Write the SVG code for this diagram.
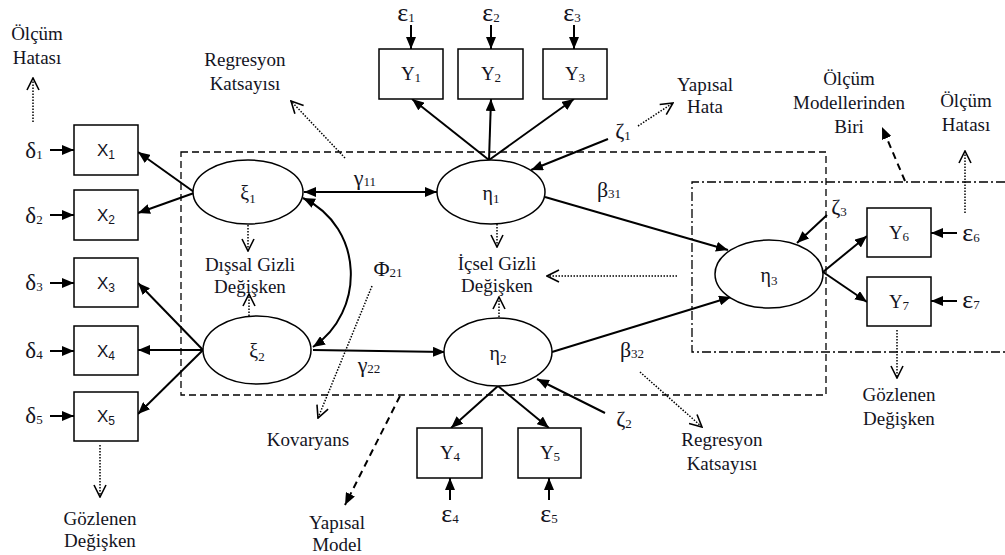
<svg xmlns="http://www.w3.org/2000/svg" width="1005" height="555" viewBox="0 0 1005 555">
  <defs>
    <marker id="head" viewBox="0 0 12 10" refX="12" refY="5" markerWidth="12" markerHeight="10" markerUnits="userSpaceOnUse" orient="auto-start-reverse">
      <path d="M0,0 L12,5 L0,10 z" fill="#000"/>
    </marker>
    <marker id="open" viewBox="0 0 14 14" refX="13" refY="7" markerWidth="14" markerHeight="14" markerUnits="userSpaceOnUse" orient="auto">
      <path d="M1,1 L13,7 L1,13" fill="none" stroke="#000" stroke-width="1.6"/>
    </marker>
  </defs>
  <style>
    .box { fill: #fff; stroke: #000; stroke-width: 1.5; }
    .lat { fill: #fff; stroke: #000; stroke-width: 1.5; }
    .arr { fill: none; stroke: #000; stroke-width: 2; marker-end: url(#head); }
    .dot { fill: none; stroke: #000; stroke-width: 1.5; stroke-dasharray: 1.5 1.5; marker-end: url(#open); }
    .dash { fill: none; stroke: #000; stroke-width: 2; stroke-dasharray: 7 5; marker-end: url(#head); }
    .frame { fill: none; stroke: #000; stroke-width: 1.3; stroke-dasharray: 7 4; }
    .frame2 { fill: none; stroke: #000; stroke-width: 1.3; stroke-dasharray: 9 3 2 3; }
    text { font-family: "Liberation Serif", "Times New Roman", serif; fill: #14141e; }
    .lbl { font-size: 19px; text-anchor: middle; }
    .nd { font-size: 19px; text-anchor: middle; }
    .xs { font-family: "Liberation Sans", Arial, sans-serif; font-size: 17px; text-anchor: middle; }
    .gk { font-size: 20px; text-anchor: middle; }
    .gs { font-size: 22px; text-anchor: middle; }
    .dl { font-size: 23px; text-anchor: middle; }
    .ep { font-size: 26px; text-anchor: middle; }
    .sb { font-size: 13px; }
  </style>

  <!-- model frames -->
  <g id="frames">
    <rect class="frame" x="181" y="152" width="645" height="243"/>
    <path class="frame2" d="M1005,182 L692,182 L692,352 L1005,352"/>
  </g>

  <!-- connectors -->
  <g id="connectors">
    <!-- error terms to indicators -->
    <line class="arr" x1="50" y1="150" x2="74" y2="150"/>
    <line class="arr" x1="50" y1="215" x2="74" y2="215"/>
    <line class="arr" x1="50" y1="283" x2="74" y2="283"/>
    <line class="arr" x1="50" y1="351" x2="74" y2="351"/>
    <line class="arr" x1="50" y1="416" x2="74" y2="416"/>
    <line class="arr" x1="411" y1="25" x2="411" y2="49"/>
    <line class="arr" x1="491" y1="25" x2="491" y2="49"/>
    <line class="arr" x1="574" y1="25" x2="574" y2="49"/>
    <line class="arr" x1="450" y1="500" x2="450" y2="478"/>
    <line class="arr" x1="549" y1="500" x2="549" y2="478"/>
    <line class="arr" x1="957" y1="233" x2="931" y2="233"/>
    <line class="arr" x1="957" y1="301" x2="931" y2="301"/>
    <!-- loadings -->
    <line class="arr" x1="194" y1="192" x2="138" y2="152"/>
    <line class="arr" x1="194" y1="193" x2="138" y2="213"/>
    <line class="arr" x1="203" y1="350" x2="138" y2="283"/>
    <line class="arr" x1="203" y1="350" x2="138" y2="350"/>
    <line class="arr" x1="203" y1="350" x2="138" y2="414"/>
    <line class="arr" x1="489" y1="160" x2="412" y2="99"/>
    <line class="arr" x1="489" y1="160" x2="491" y2="99"/>
    <line class="arr" x1="489" y1="160" x2="574" y2="99"/>
    <line class="arr" x1="498" y1="386" x2="451" y2="428"/>
    <line class="arr" x1="498" y1="386" x2="549" y2="428"/>
    <line class="arr" x1="823" y1="272" x2="867" y2="236"/>
    <line class="arr" x1="823" y1="272" x2="867" y2="302"/>
    <!-- structural paths -->
    <line class="arr" x1="304" y1="192" x2="437" y2="192" marker-start="url(#head)"/>
    <line class="arr" x1="313" y1="350" x2="445" y2="352"/>
    <path class="arr" d="M303,198 C365,228 365,312 313,347" marker-start="url(#head)"/>
    <line class="arr" x1="545" y1="197" x2="728" y2="250"/>
    <line class="arr" x1="552" y1="352" x2="731" y2="297"/>
    <!-- disturbances -->
    <line class="arr" x1="608" y1="139" x2="531" y2="170"/>
    <line class="arr" x1="605" y1="413" x2="537" y2="379"/>
    <line class="arr" x1="827" y1="215" x2="797" y2="243"/>
    <!-- annotation pointers -->
    <line class="dot" x1="33" y1="122" x2="33" y2="78"/>
    <line class="dot" x1="345" y1="158" x2="291" y2="101"/>
    <line class="dot" x1="248" y1="225" x2="248" y2="251"/>
    <line class="dot" x1="249" y1="316" x2="249" y2="294"/>
    <line class="dot" x1="497" y1="224" x2="497" y2="247"/>
    <line class="dot" x1="499" y1="317" x2="499" y2="297"/>
    <line class="dot" x1="677" y1="276" x2="547" y2="276"/>
    <line class="dot" x1="372" y1="286" x2="318" y2="418"/>
    <line class="dot" x1="640" y1="372" x2="702" y2="427"/>
    <line class="dot" x1="638" y1="126" x2="673" y2="103"/>
    <line class="dot" x1="965" y1="213" x2="965" y2="151"/>
    <line class="dot" x1="897" y1="330" x2="897" y2="378"/>
    <line class="dot" x1="100" y1="445" x2="100" y2="497"/>
    <line class="dash" x1="400" y1="396" x2="345" y2="505"/>
    <line class="dash" x1="905" y1="181" x2="882" y2="127"/>
  </g>

  <!-- observed indicators -->
  <g id="X1"><rect class="box" x="74" y="125" width="64" height="50"/><text class="xs" x="106" y="156">X<tspan font-size="12" dy="3">1</tspan></text></g>
  <g id="X2"><rect class="box" x="74" y="190" width="64" height="50"/><text class="xs" x="106" y="221">X<tspan font-size="12" dy="3">2</tspan></text></g>
  <g id="X3"><rect class="box" x="74" y="258" width="64" height="49"/><text class="xs" x="106" y="289">X<tspan font-size="12" dy="3">3</tspan></text></g>
  <g id="X4"><rect class="box" x="74" y="326" width="64" height="49"/><text class="xs" x="106" y="357">X<tspan font-size="12" dy="3">4</tspan></text></g>
  <g id="X5"><rect class="box" x="74" y="392" width="64" height="49"/><text class="xs" x="106" y="422">X<tspan font-size="12" dy="3">5</tspan></text></g>

  <g id="Y1"><rect class="box" x="379" y="49" width="64" height="50"/><text class="nd" x="411" y="80">Y<tspan font-size="13" dy="2">1</tspan></text></g>
  <g id="Y2"><rect class="box" x="458" y="49" width="65" height="50"/><text class="nd" x="491" y="80">Y<tspan font-size="13" dy="2">2</tspan></text></g>
  <g id="Y3"><rect class="box" x="543" y="49" width="64" height="50"/><text class="nd" x="575" y="80">Y<tspan font-size="13" dy="2">3</tspan></text></g>
  <g id="Y4"><rect class="box" x="417" y="428" width="65" height="50"/><text class="nd" x="450" y="459">Y<tspan font-size="13" dy="2">4</tspan></text></g>
  <g id="Y5"><rect class="box" x="518" y="428" width="63" height="50"/><text class="nd" x="550" y="459">Y<tspan font-size="13" dy="2">5</tspan></text></g>
  <g id="Y6"><rect class="box" x="867" y="208" width="64" height="49"/><text class="nd" x="899" y="239">Y<tspan font-size="13" dy="2">6</tspan></text></g>
  <g id="Y7"><rect class="box" x="867" y="277" width="64" height="49"/><text class="nd" x="899" y="308">Y<tspan font-size="13" dy="2">7</tspan></text></g>

  <!-- latent variables -->
  <g id="xi1"><ellipse class="lat" cx="248" cy="192" rx="55" ry="32"/><text class="gk" x="248" y="200">ξ<tspan class="sb" dy="3">1</tspan></text></g>
  <g id="xi2"><ellipse class="lat" cx="257" cy="350" rx="54" ry="34"/><text class="gk" x="257" y="358">ξ<tspan class="sb" dy="3">2</tspan></text></g>
  <g id="eta1"><ellipse class="lat" cx="491" cy="192" rx="54" ry="32"/><text class="gk" x="491" y="200">η<tspan class="sb" dy="3">1</tspan></text></g>
  <g id="eta2"><ellipse class="lat" cx="498" cy="352" rx="54" ry="34"/><text class="gk" x="498" y="360">η<tspan class="sb" dy="3">2</tspan></text></g>
  <g id="eta3"><ellipse class="lat" cx="769" cy="274" rx="54" ry="34"/><text class="gk" x="769" y="282">η<tspan class="sb" dy="3">3</tspan></text></g>

  <!-- error and parameter symbols -->
  <g id="symbols">
    <text class="dl" x="34" y="158">δ<tspan class="sb" dy="1">1</tspan></text>
    <text class="dl" x="34" y="223">δ<tspan class="sb" dy="1">2</tspan></text>
    <text class="dl" x="34" y="290">δ<tspan class="sb" dy="1">3</tspan></text>
    <text class="dl" x="34" y="358">δ<tspan class="sb" dy="1">4</tspan></text>
    <text class="dl" x="34" y="423">δ<tspan class="sb" dy="1">5</tspan></text>
    <text class="ep" x="406" y="21">ε<tspan class="sb" dy="1">1</tspan></text>
    <text class="ep" x="491" y="21">ε<tspan class="sb" dy="1">2</tspan></text>
    <text class="ep" x="572" y="21">ε<tspan class="sb" dy="1">3</tspan></text>
    <text class="ep" x="450" y="522">ε<tspan class="sb" dy="1">4</tspan></text>
    <text class="ep" x="549" y="522">ε<tspan class="sb" dy="1">5</tspan></text>
    <text class="ep" x="971" y="241">ε<tspan class="sb" dy="1">6</tspan></text>
    <text class="ep" x="971" y="308">ε<tspan class="sb" dy="1">7</tspan></text>
    <text class="gs" x="623" y="138">ζ<tspan class="sb" dy="2">1</tspan></text>
    <text class="gs" x="624" y="426">ζ<tspan class="sb" dy="2">2</tspan></text>
    <text class="gs" x="839" y="214">ζ<tspan class="sb" dy="2">3</tspan></text>
    <text class="gs" x="365" y="185">γ<tspan class="sb" dy="1">11</tspan></text>
    <text class="gs" x="369" y="372">γ<tspan class="sb" dy="1">22</tspan></text>
    <text class="gs" x="609" y="197">β<tspan class="sb" dy="1">31</tspan></text>
    <text class="gs" x="632" y="357">β<tspan class="sb" dy="1">32</tspan></text>
    <text class="gs" x="388" y="276">Φ<tspan class="sb" dy="1">21</tspan></text>
  </g>

  <!-- annotations -->
  <g id="annotations">
    <text class="lbl" x="37" y="40">Ölçüm</text>
    <text class="lbl" x="37" y="64">Hatası</text>
    <text class="lbl" x="245" y="66">Regresyon</text>
    <text class="lbl" x="245" y="90">Katsayısı</text>
    <text class="lbl" x="250" y="271">Dışsal Gizli</text>
    <text class="lbl" x="250" y="293">Değişken</text>
    <text class="lbl" x="497" y="270">İçsel Gizli</text>
    <text class="lbl" x="497" y="292">Değişken</text>
    <text class="lbl" x="308" y="446">Kovaryans</text>
    <text class="lbl" x="337" y="529">Yapısal</text>
    <text class="lbl" x="337" y="551">Model</text>
    <text class="lbl" x="100" y="525">Gözlenen</text>
    <text class="lbl" x="100" y="547">Değişken</text>
    <text class="lbl" x="722" y="446">Regresyon</text>
    <text class="lbl" x="722" y="470">Katsayısı</text>
    <text class="lbl" x="705" y="91">Yapısal</text>
    <text class="lbl" x="705" y="113">Hata</text>
    <text class="lbl" x="849" y="85">Ölçüm</text>
    <text class="lbl" x="849" y="109">Modellerinden</text>
    <text class="lbl" x="849" y="133">Biri</text>
    <text class="lbl" x="966" y="107">Ölçüm</text>
    <text class="lbl" x="966" y="131">Hatası</text>
    <text class="lbl" x="899" y="401">Gözlenen</text>
    <text class="lbl" x="899" y="425">Değişken</text>
  </g>
</svg>
